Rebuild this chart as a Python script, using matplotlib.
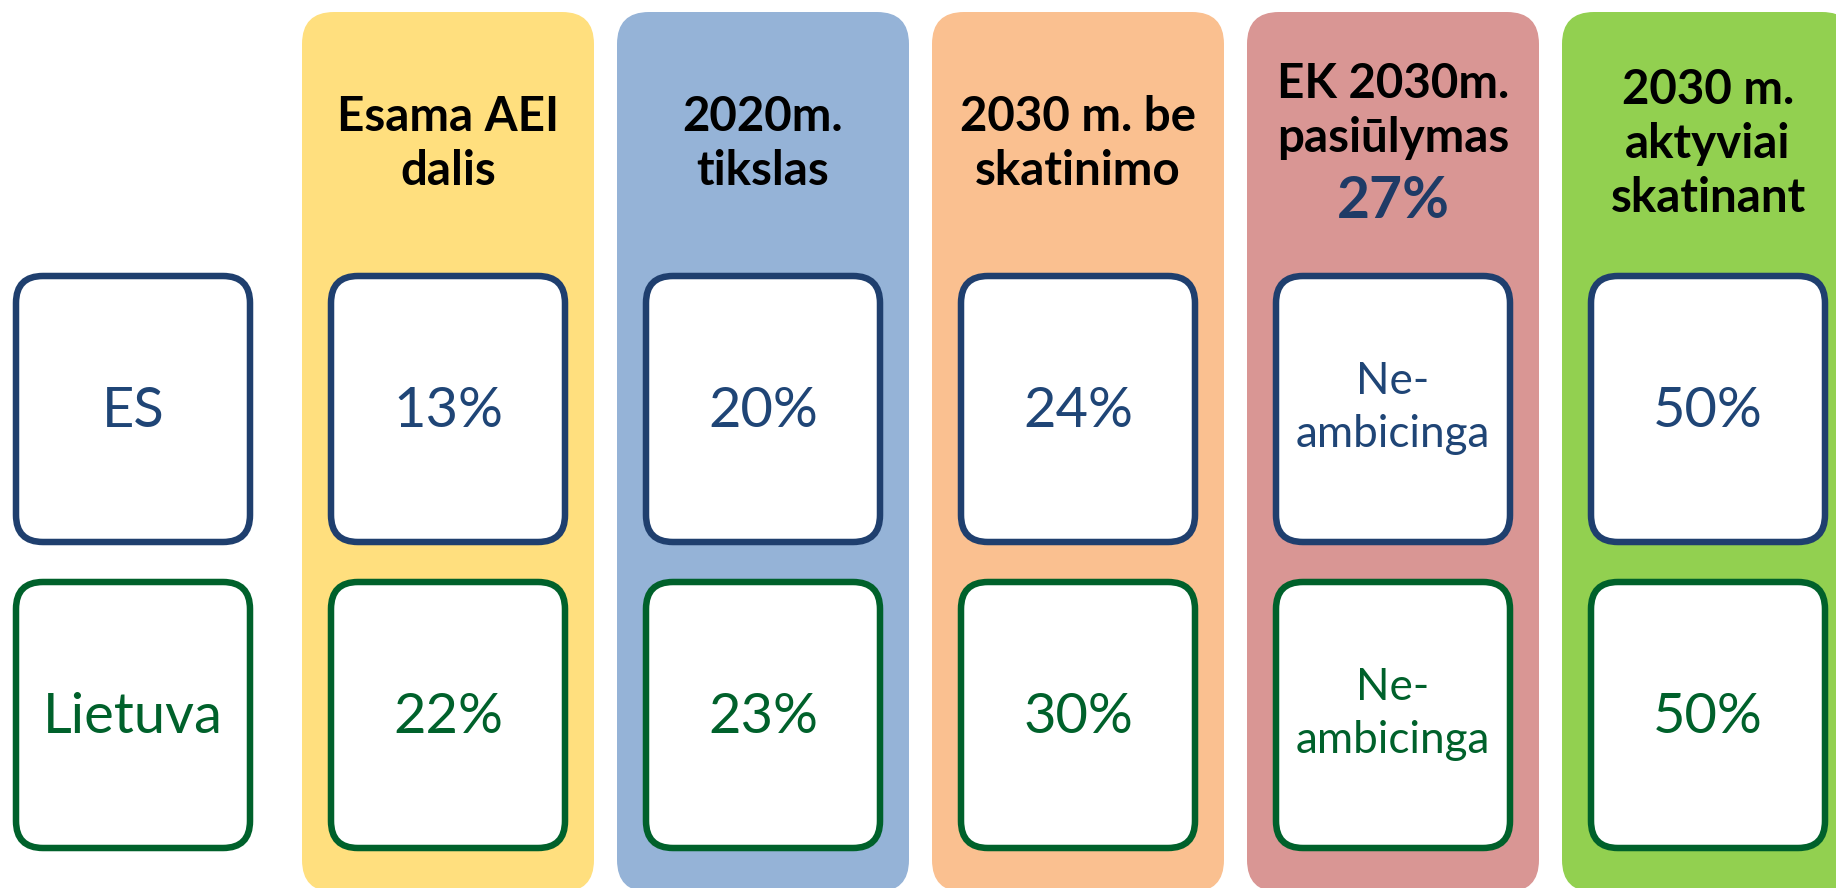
"""Renewable energy share table: EU vs Lithuania, current / 2020 / 2030 scenarios."""

import matplotlib

matplotlib.use("Agg")
import matplotlib.pyplot as plt
from matplotlib.patches import FancyBboxPatch

# --- data ---------------------------------------------------------------
ROW_LABELS = ["ES", "Lietuva"]
COLUMN_TITLES = [
    ["Esama AEI", "dalis"],
    ["2020m.", "tikslas"],
    ["2030 m. be", "skatinimo"],
    ["EK 2030m.", "pasiūlymas"],
    ["2030 m.", "aktyviai", "skatinant"],
]
PROPOSAL_COLUMN = 3  # column whose header carries the proposed target
PROPOSAL_SHARE = 27  # %
ES_SHARE = [13, 20, 24, None, 50]  # None -> "not ambitious"
LT_SHARE = [22, 23, 30, None, 50]
NOT_AMBITIOUS = ["Ne-", "ambicinga"]

# --- style / layout (pixel units, y grows downwards) ---------------------
W, H, DPI = 1836, 888, 100
X0, STEP = 133, 315  # centre of label column, column pitch
COL_W, COL_TOP, COL_BOTTOM, COL_R = 292, 12, 892, 32
BOX_W, BOX_H, BOX_R, BOX_LW = 234, 266, 27, 6.5
ROW_Y = [409, 715]
HEAD_CENTER, HEAD_PITCH, HEAD_CAP = 141, 54, 34
BIG_PITCH, BIG_CAP = 65, 41

COLUMN_COLORS = ["#FFDF7E", "#95B3D7", "#FAC090", "#D99694", "#92D050"]
ROW_EDGE = ["#1F3F6E", "#00612B"]
ROW_TEXT = ["#1F4576", "#00612B"]
PROPOSAL_COLOR = "#1F3B66"

FONT = ["Lato", "DejaVu Sans"]
PT = 72 / DPI  # px -> pt
VALUE_SIZE = 56 * PT
SMALL_SIZE = 44 * PT
HEAD_SIZE = 47.5 * PT
BIG_SIZE = 57 * PT


def px_lw(px: float) -> float:
    return px * PT


def draw_columns(ax) -> None:
    for i, color in enumerate(COLUMN_COLORS, start=1):
        cx = X0 + i * STEP
        ax.add_patch(
            FancyBboxPatch(
                (cx - COL_W / 2, COL_TOP),
                COL_W,
                COL_BOTTOM - COL_TOP,
                boxstyle=f"round,pad=0,rounding_size={COL_R}",
                fc=color,
                ec="none",
                zorder=1,
            )
        )


def draw_headers(ax) -> None:
    for i, lines in enumerate(COLUMN_TITLES, start=1):
        cx = X0 + i * STEP
        items = [(t, HEAD_SIZE, "black", HEAD_PITCH) for t in lines]
        if i - 1 == PROPOSAL_COLUMN:
            items.append((f"{PROPOSAL_SHARE}%", BIG_SIZE, PROPOSAL_COLOR, BIG_PITCH))
        block_h = HEAD_CAP + sum(p for _, _, _, p in items[1:])
        base = HEAD_CENTER - block_h / 2 + HEAD_CAP
        for k, (txt, size, color, pitch) in enumerate(items):
            if k > 0:
                base += pitch
            ax.text(
                cx, base, txt, ha="center", va="baseline", fontsize=size,
                fontweight="bold", color=color, family=FONT, zorder=3,
            )


def draw_box(ax, cx: float, cy: float, row: int) -> None:
    ax.add_patch(
        FancyBboxPatch(
            (cx - BOX_W / 2, cy - BOX_H / 2),
            BOX_W,
            BOX_H,
            boxstyle=f"round,pad=0,rounding_size={BOX_R}",
            fc="white",
            ec=ROW_EDGE[row],
            lw=px_lw(BOX_LW),
            zorder=2,
        )
    )


def draw_cell(ax, cx: float, cy: float, row: int, value) -> None:
    draw_box(ax, cx, cy, row)
    color = ROW_TEXT[row]
    if value is None:
        for txt, dy in zip(NOT_AMBITIOUS, (-15, 38)):
            ax.text(cx, cy + dy, txt, ha="center", va="baseline",
                    fontsize=SMALL_SIZE, color=color, family=FONT, zorder=3)
    else:
        label = value if isinstance(value, str) else f"{value}%"
        ax.text(cx, cy + 17.5, label, ha="center", va="baseline",
                fontsize=VALUE_SIZE, color=color, family=FONT, zorder=3)


def main() -> None:
    fig = plt.figure(figsize=(W / DPI, H / DPI), dpi=DPI)
    ax = fig.add_axes([0, 0, 1, 1])
    ax.set_xlim(0, W)
    ax.set_ylim(H, 0)
    ax.axis("off")

    draw_columns(ax)
    draw_headers(ax)

    for row, (label, shares) in enumerate(zip(ROW_LABELS, (ES_SHARE, LT_SHARE))):
        cy = ROW_Y[row]
        draw_cell(ax, X0, cy, row, label)
        for i, v in enumerate(shares, start=1):
            draw_cell(ax, X0 + i * STEP, cy, row, v)

    fig.savefig("out.png", dpi=DPI)
    plt.close(fig)


if __name__ == "__main__":
    main()
